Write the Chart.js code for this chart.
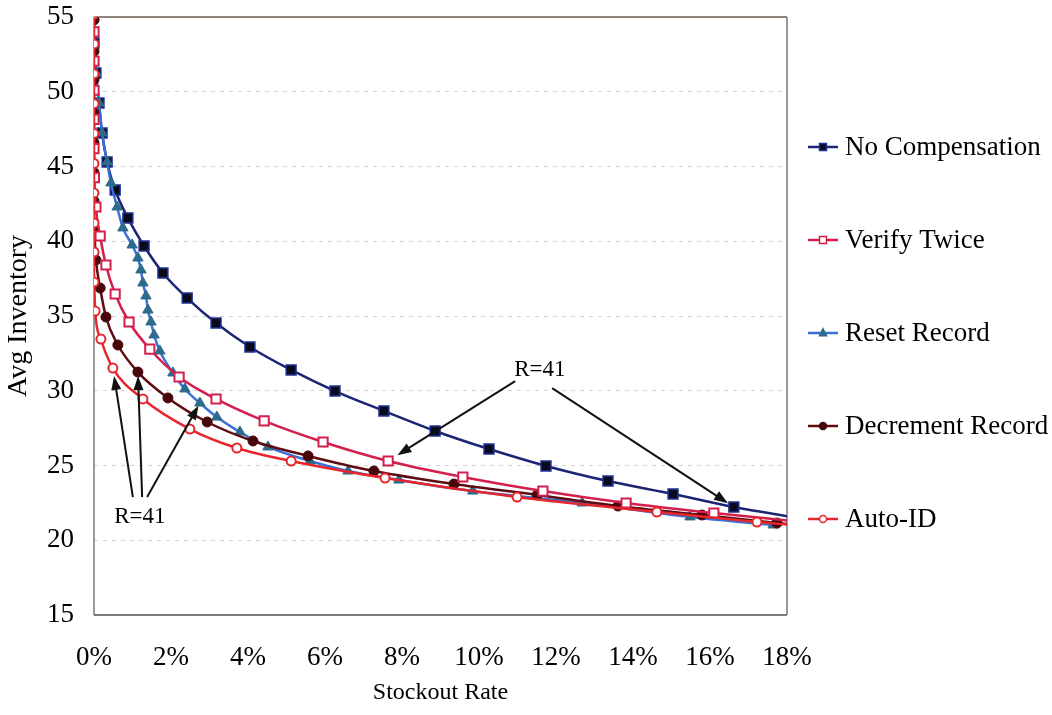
<!DOCTYPE html>
<html>
<head>
<meta charset="utf-8">
<title>Avg Inventory vs Stockout Rate</title>
<script src="https://cdn.jsdelivr.net/npm/chart.js@4"></script>
<style>
  html, body { margin: 0; padding: 0; background: #fff; }
  #wrap { width: 1052px; height: 715px; }
</style>
</head>
<body>
<div id="wrap"><canvas id="myChart" width="1052" height="715"></canvas></div>
<script>
// series, stockout rate (%) and avg inventory
var noCompX = [0.00, 0.05, 0.13, 0.21, 0.34, 0.55, 0.88, 1.30, 1.79, 2.42, 3.17, 4.05, 5.12, 6.26, 7.53, 8.86, 10.26, 11.74, 13.35, 15.04, 16.62, 18.25];
var noCompY = [53.26, 51.25, 49.25, 47.24, 45.30, 43.43, 41.56, 39.68, 37.88, 36.20, 34.53, 32.93, 31.39, 29.98, 28.65, 27.31, 26.10, 24.97, 23.96, 23.09, 22.22, 21.50];

var verifyX = [0.00, 0.00, 0.00, 0.00, 0.00, 0.01, 0.05, 0.16, 0.31, 0.55, 0.91, 1.45, 2.21, 3.17, 4.42, 5.95, 7.64, 9.58, 11.66, 13.82, 16.10, 18.50];
var verifyY = [54.00, 52.05, 50.10, 48.15, 46.20, 44.25, 42.29, 40.35, 38.41, 36.47, 34.60, 32.79, 30.92, 29.45, 27.98, 26.57, 25.30, 24.23, 23.29, 22.49, 21.82, 21.20];

var resetX = [0.00, 0.00, 0.05, 0.13, 0.21, 0.34, 0.44, 0.60, 0.75, 0.99, 1.14, 1.22, 1.27, 1.35, 1.40, 1.48, 1.56, 1.71, 2.05, 2.36, 2.75, 3.19, 3.79, 4.52, 5.61, 6.60, 7.92, 9.84, 12.68, 15.48, 17.64];
var resetY = [55.00, 53.26, 51.25, 49.25, 47.24, 45.30, 43.90, 42.29, 40.89, 39.75, 38.88, 38.08, 37.21, 36.34, 35.40, 34.60, 33.73, 32.66, 31.19, 30.12, 29.18, 28.24, 27.24, 26.24, 25.30, 24.63, 24.03, 23.29, 22.49, 21.56, 21.02];

var decrX = [0.00, 0.00, 0.00, 0.00, 0.00, 0.00, 0.00, 0.00, 0.05, 0.16, 0.31, 0.62, 1.14, 1.92, 2.94, 4.13, 5.56, 7.27, 9.35, 11.51, 13.61, 15.79, 17.74, 19.60];
var decrY = [54.80, 52.70, 50.80, 48.60, 46.60, 44.60, 42.69, 40.75, 38.75, 36.87, 34.93, 33.06, 31.25, 29.52, 27.91, 26.64, 25.64, 24.63, 23.76, 23.03, 22.29, 21.69, 21.15, 20.70];

var autoX = [0.00, 0.00, 0.00, 0.00, 0.00, 0.00, 0.00, 0.00, 0.00, 0.00, 0.03, 0.18, 0.49, 1.27, 2.49, 3.71, 5.12, 7.56, 10.99, 14.62, 17.22, 19.60];
var autoY = [55.20, 53.20, 51.20, 49.20, 47.20, 45.20, 43.23, 41.22, 39.28, 37.27, 35.33, 33.46, 31.52, 29.45, 27.44, 26.17, 25.30, 24.16, 22.89, 21.89, 21.22, 20.70];

var seriesNames = ['No Compensation', 'Verify Twice', 'Reset Record', 'Decrement Record', 'Auto-ID'];

var xTickValues = [0, 2, 4, 6, 8, 10, 12, 14, 16, 18];
var yTickValues = [15, 20, 25, 30, 35, 40, 45, 50, 55];

// "R=41" callouts: label position, arrow tails, and the point each arrow hits
var calloutText = 'R=41';
var calloutLabels = [[11.58, 31.39], [1.19, 21.56]];
var arrowTails = [[10.94, 30.65], [11.90, 30.18], [1.01, 22.89], [1.25, 22.89], [1.38, 22.89]];
var arrowHeads = [[1, 16], [0, 20], [4, 12], [3, 12], [2, 20]]; // [dataset, point index]
var arrowGaps = [11, 7, 8, 4, 3];

function pairs(xs, ys) {
  return xs.map(function (x, i) { return { x: x, y: ys[i] }; });
}

var serif = "'Liberation Serif', 'Times New Roman', serif";
Chart.defaults.font.family = serif;
Chart.defaults.color = '#000';

var framePlugin = {
  id: 'frame',
  beforeDatasetsDraw: function (chart) {
    var a = chart.chartArea, ctx = chart.ctx;
    ctx.save();
    ctx.lineWidth = 1.5;
    ctx.strokeStyle = '#7a7a7a';
    ctx.beginPath();
    ctx.moveTo(a.left, a.top); ctx.lineTo(a.left, a.bottom);
    ctx.moveTo(a.right, a.top); ctx.lineTo(a.right, a.bottom);
    ctx.stroke();
    ctx.strokeStyle = '#6b5e52';
    ctx.beginPath();
    ctx.moveTo(a.left, a.top); ctx.lineTo(a.right, a.top);
    ctx.stroke();
    ctx.strokeStyle = '#555';
    ctx.beginPath();
    ctx.moveTo(a.left, a.bottom); ctx.lineTo(a.right, a.bottom);
    ctx.stroke();
    ctx.restore();
  }
};

function drawMarker(ctx, ds, x, y, r) {
  ctx.save();
  ctx.fillStyle = ds.pointBackgroundColor;
  ctx.strokeStyle = ds.pointBorderColor;
  ctx.lineWidth = 1.5;
  ctx.beginPath();
  if (ds.pointStyle === 'rect') {
    ctx.rect(x - r, y - r, 2 * r, 2 * r);
  } else if (ds.pointStyle === 'triangle') {
    ctx.moveTo(x, y - r * 1.2);
    ctx.lineTo(x + r, y + r * 0.8);
    ctx.lineTo(x - r, y + r * 0.8);
    ctx.closePath();
  } else {
    ctx.arc(x, y, r, 0, Math.PI * 2);
  }
  ctx.fill();
  ctx.stroke();
  ctx.restore();
}

var legendPlugin = {
  id: 'sideLegend',
  afterDraw: function (chart) {
    var a = chart.chartArea, ctx = chart.ctx;
    var x0 = a.right + 21;
    chart.data.datasets.forEach(function (ds, i) {
      var y = a.top + 130 + i * 93;
      ctx.save();
      ctx.strokeStyle = ds.borderColor;
      ctx.lineWidth = 2.5;
      ctx.beginPath();
      ctx.moveTo(x0, y); ctx.lineTo(x0 + 30, y);
      ctx.stroke();
      ctx.restore();
      drawMarker(ctx, ds, x0 + 15, y, 3.5);
      ctx.save();
      ctx.fillStyle = '#000';
      ctx.font = '27px ' + serif;
      ctx.textBaseline = 'middle';
      ctx.fillText(ds.label, x0 + 37, y + 1);
      ctx.restore();
    });
  }
};

function arrow(ctx, x1, y1, x2, y2) {
  var ang = Math.atan2(y2 - y1, x2 - x1);
  var hl = 14, hw = 5;
  ctx.beginPath();
  ctx.moveTo(x1, y1);
  ctx.lineTo(x2 - Math.cos(ang) * hl * 0.8, y2 - Math.sin(ang) * hl * 0.8);
  ctx.stroke();
  ctx.beginPath();
  ctx.moveTo(x2, y2);
  ctx.lineTo(x2 - Math.cos(ang) * hl - Math.sin(ang) * hw, y2 - Math.sin(ang) * hl + Math.cos(ang) * hw);
  ctx.lineTo(x2 - Math.cos(ang) * hl + Math.sin(ang) * hw, y2 - Math.sin(ang) * hl - Math.cos(ang) * hw);
  ctx.closePath();
  ctx.fill();
}

var calloutPlugin = {
  id: 'callouts',
  afterDatasetsDraw: function (chart) {
    var ctx = chart.ctx, xs = chart.scales.x, ys = chart.scales.y;
    ctx.save();
    ctx.strokeStyle = '#111';
    ctx.fillStyle = '#111';
    ctx.lineWidth = 2;
    arrowTails.forEach(function (t, i) {
      var x1 = xs.getPixelForValue(t[0]), y1 = ys.getPixelForValue(t[1]);
      var pt = chart.data.datasets[arrowHeads[i][0]].data[arrowHeads[i][1]];
      var px = xs.getPixelForValue(pt.x), py = ys.getPixelForValue(pt.y);
      var d = Math.hypot(px - x1, py - y1);
      var g = arrowGaps[i];
      arrow(ctx, x1, y1, px - (px - x1) * g / d, py - (py - y1) * g / d);
    });
    ctx.fillStyle = '#000';
    ctx.font = '23px ' + serif;
    ctx.textAlign = 'center';
    ctx.textBaseline = 'middle';
    calloutLabels.forEach(function (c) {
      ctx.fillText(calloutText, xs.getPixelForValue(c[0]), ys.getPixelForValue(c[1]));
    });
    ctx.restore();
  }
};

var ctx = document.getElementById('myChart').getContext('2d');
var myChart = new Chart(ctx, {
  type: 'line',
  data: {
    datasets: [
      {
        label: seriesNames[0],
        data: pairs(noCompX, noCompY),
        borderColor: '#1b2475',
        borderWidth: 2.5,
        pointStyle: 'rect',
        pointRadius: 7,
        pointBackgroundColor: '#0a0a1c',
        pointBorderColor: '#1f3296',
        pointBorderWidth: 1.5,
        order: 5
      },
      {
        label: seriesNames[1],
        data: pairs(verifyX, verifyY),
        borderColor: '#d41f4c',
        borderWidth: 2.5,
        pointStyle: 'rect',
        pointRadius: 6.5,
        pointBackgroundColor: '#ffffff',
        pointBorderColor: '#d41f4c',
        pointBorderWidth: 2,
        order: 2
      },
      {
        label: seriesNames[2],
        data: pairs(resetX, resetY),
        borderColor: '#3b6fd8',
        borderWidth: 2.5,
        pointStyle: 'triangle',
        pointRadius: 6,
        pointBackgroundColor: '#2d6b8c',
        pointBorderColor: '#2d6b8c',
        pointBorderWidth: 1,
        order: 4
      },
      {
        label: seriesNames[3],
        data: pairs(decrX, decrY),
        borderColor: '#5e0b12',
        borderWidth: 2.5,
        pointStyle: 'circle',
        pointRadius: 5,
        pointBackgroundColor: '#48060a',
        pointBorderColor: '#48060a',
        pointBorderWidth: 1,
        order: 3
      },
      {
        label: seriesNames[4],
        data: pairs(autoX, autoY),
        borderColor: '#e6262c',
        borderWidth: 2.5,
        pointStyle: 'circle',
        pointRadius: 4.5,
        pointBackgroundColor: '#ffffff',
        pointBorderColor: '#e6262c',
        pointBorderWidth: 2,
        order: 1
      }
    ]
  },
  options: {
    responsive: false,
    animation: false,
    cubicInterpolationMode: 'monotone',
    layout: { autoPadding: false, padding: { left: 0, right: 265, top: 17, bottom: 0 } },
    plugins: {
      legend: { display: false },
      tooltip: { enabled: false }
    },
    scales: {
      x: {
        type: 'linear',
        min: 0,
        max: 18,
        afterBuildTicks: function (s) { s.ticks = xTickValues.map(function (v) { return { value: v }; }); },
        afterFit: function (s) { s.height = 100; },
        ticks: {
          padding: 19,
          font: { size: 27 },
          color: '#000',
          callback: function (v) { return v + '%'; }
        },
        grid: { display: false },
        border: { display: false },
        title: {
          display: true,
          text: 'Stockout Rate',
          font: { size: 24 },
          color: '#000',
          padding: { top: 4, bottom: 8 }
        }
      },
      y: {
        min: 15,
        max: 55,
        afterBuildTicks: function (s) { s.ticks = yTickValues.map(function (v) { return { value: v }; }); },
        afterFit: function (s) { s.width = 94; s.paddingTop = 0; s.paddingBottom = 0; },
        ticks: {
          padding: 20,
          font: { size: 27, lineHeight: 1.1 },
          color: '#000'
        },
        grid: {
          color: '#d4d4d4',
          lineWidth: 1,
          drawTicks: false
        },
        border: { display: false, dash: [4, 5] },
        title: {
          display: true,
          text: 'Avg Inventory',
          font: { size: 28 },
          color: '#000',
          padding: { top: 2, bottom: 0 }
        }
      }
    }
  },
  plugins: [framePlugin, calloutPlugin, legendPlugin]
});
</script>
</body>
</html>
